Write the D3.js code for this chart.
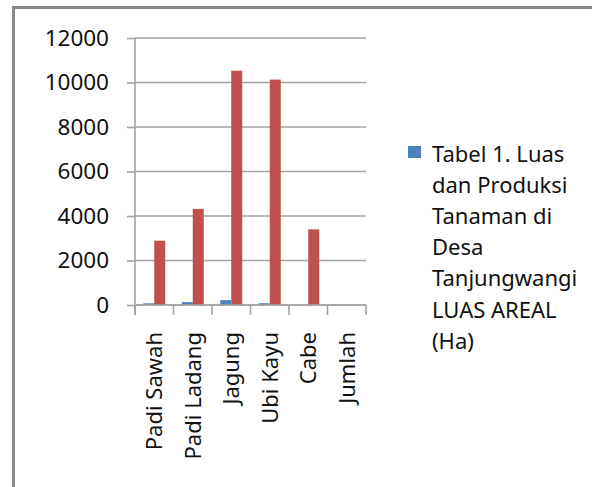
<!DOCTYPE html>
<html>
<head>
<meta charset="utf-8">
<script src="https://cdn.jsdelivr.net/npm/d3@7/dist/d3.min.js"></script>
<style>
  html, body { margin: 0; padding: 0; background: #fff; }
  svg { display: block; }
  text { font-family: "Noto Sans", "Open Sans", sans-serif; fill: #111; }
</style>
</head>
<body>
<script>
// ---- data ----
const categories = ["Padi Sawah", "Padi Ladang", "Jagung", "Ubi Kayu", "Cabe", "Jumlah"];
const seriesNames = ["LUAS AREAL (Ha)", "PRODUKSI"];
const luasAreal = [75, 130, 220, 80, 0, 0];
const produksi = [2890, 4320, 10530, 10130, 3400, 0];
const yTicks = [0, 2000, 4000, 6000, 8000, 10000, 12000];
const legendLines = ["Tabel 1. Luas", "dan Produksi", "Tanaman di", "Desa", "Tanjungwangi", "LUAS AREAL", "(Ha)"];
const colors = ["#4F81BD", "#C0504D"];

const W = 592, H = 487;
const svg = d3.select("body").append("svg").attr("width", W).attr("height", H);

// outer frame (left and top edges visible)
svg.append("line").attr("x1", 13.5).attr("x2", 13.5).attr("y1", 6).attr("y2", H)
  .attr("stroke", "#8a8a8a").attr("stroke-width", 3);
svg.append("line").attr("x1", 12).attr("x2", W).attr("y1", 7.5).attr("y2", 7.5)
  .attr("stroke", "#8a8a8a").attr("stroke-width", 3);

const plotL = 135, plotR = 366, plotT = 38, plotB = 305;

const y = d3.scaleLinear().domain([0, 12000]).range([plotB, plotT]);
const x = d3.scaleBand().domain(categories).range([plotL, plotR]).paddingInner(0).paddingOuter(0);
const x1 = d3.scaleBand().domain(seriesNames).range([0, x.bandwidth()]).paddingInner(0).paddingOuter(0.75);

// gridlines
svg.append("g").selectAll("line").data(yTicks).join("line")
  .attr("x1", plotL).attr("x2", plotR)
  .attr("y1", d => y(d)).attr("y2", d => y(d))
  .attr("stroke", "#a3a3a3").attr("stroke-width", 1.6);

// y axis
const yAxis = svg.append("g").attr("transform", `translate(${plotL},0)`)
  .call(d3.axisLeft(y).tickValues(yTicks).tickSizeInner(8).tickSizeOuter(0).tickPadding(18).tickFormat(d3.format("d")));
yAxis.select(".domain").remove();
yAxis.selectAll(".tick line").attr("stroke", "#a3a3a3").attr("stroke-width", 1.6);
yAxis.selectAll("text").style("font-size", "22.5px").style("font-family", '"Noto Sans", sans-serif').attr("fill", "#111");
svg.append("line").attr("x1", plotL).attr("x2", plotL).attr("y1", plotT).attr("y2", plotB + 10)
  .attr("stroke", "#a3a3a3").attr("stroke-width", 1.6);

// bars
const barData = [];
categories.forEach((c, i) => {
  barData.push({ cat: c, s: seriesNames[0], v: luasAreal[i], col: colors[0] });
  barData.push({ cat: c, s: seriesNames[1], v: produksi[i], col: colors[1] });
});
svg.append("g").selectAll("rect").data(barData.filter(d => d.v > 0)).join("rect")
  .attr("x", d => x(d.cat) + x1(d.s))
  .attr("width", x1.bandwidth())
  .attr("y", d => y(d.v))
  .attr("height", d => y(0) - y(d.v))
  .attr("fill", d => d.col);

// x axis line
svg.append("line").attr("x1", plotL).attr("x2", plotR).attr("y1", plotB).attr("y2", plotB)
  .attr("stroke", "#a3a3a3").attr("stroke-width", 1.6);
// x tick marks at category boundaries
const bounds = categories.map(c => x(c)).concat([x(categories[categories.length - 1]) + x.bandwidth()]);
svg.append("g").selectAll("line").data(bounds).join("line")
  .attr("x1", d => d).attr("x2", d => d).attr("y1", plotB).attr("y2", plotB + 10)
  .attr("stroke", "#a3a3a3").attr("stroke-width", 1.6);

// x labels
const xAxis = svg.append("g").attr("transform", `translate(0,${plotB})`)
  .call(d3.axisBottom(x).tickSize(0).tickPadding(0));
xAxis.select(".domain").remove();
xAxis.selectAll("text")
  .style("font-size", "22px").style("font-family", '"Noto Sans", sans-serif').attr("fill", "#111")
  .attr("transform", "rotate(-90)")
  .attr("text-anchor", "end")
  .attr("x", -27).attr("y", 0).attr("dy", "0.36em");

// legend (first series only)
const lg = svg.append("g");
lg.append("rect").attr("x", 408).attr("y", 146).attr("width", 13).attr("height", 12).attr("fill", colors[0]);
const lt = lg.append("text").attr("x", 432).attr("y", 161.5).style("font-size", "22px");
lt.selectAll("tspan").data(legendLines).join("tspan")
  .attr("x", 432).attr("dy", (d, i) => i === 0 ? 0 : 31.2).text(d => d);
</script>
</body>
</html>
